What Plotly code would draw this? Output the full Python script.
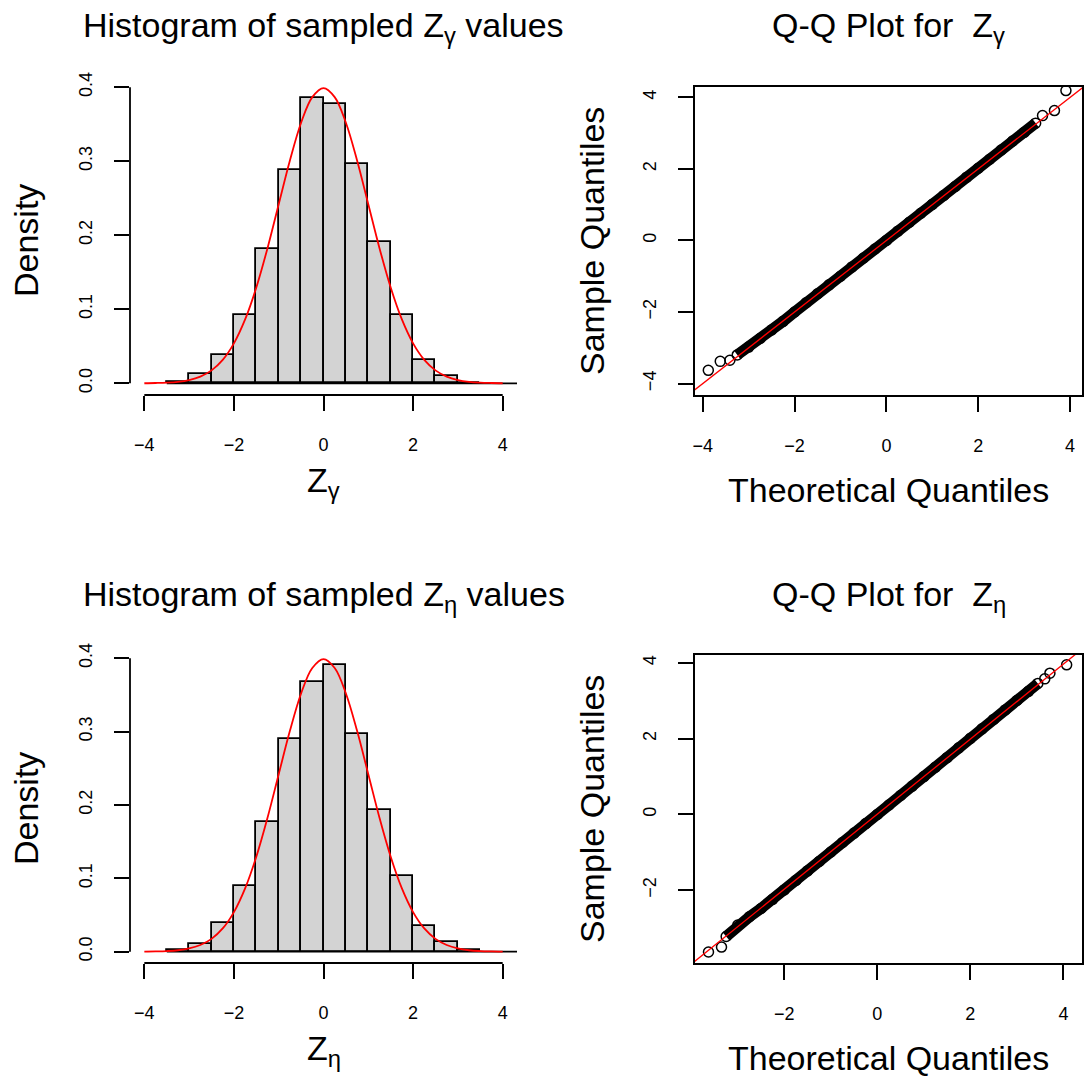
import plotly.graph_objects as go

W, H = 1089, 1077

# ---------------- data ----------------
bin_left = [-3.5, -3.0, -2.5, -2.0, -1.5, -1.0, -0.5, 0.0, 0.5, 1.0, 1.5, 2.0, 2.5, 3.0]
bin_width = 0.5
gamma_density = [0.002, 0.012, 0.038, 0.092, 0.182, 0.288, 0.386, 0.377, 0.297, 0.191, 0.092, 0.032, 0.010, 0.001]
eta_density = [0.002, 0.0105, 0.039, 0.090, 0.177, 0.290, 0.368, 0.391, 0.297, 0.193, 0.103, 0.035, 0.0127, 0.002]

curve_x = [-4.0, -3.75, -3.5, -3.25, -3.0, -2.75, -2.5, -2.25, -2.0, -1.75, -1.5, -1.25, -1.0, -0.75,
           -0.5, -0.25, 0.0, 0.25, 0.5, 0.75, 1.0, 1.25, 1.5, 1.75, 2.0, 2.25, 2.5, 2.75, 3.0, 3.25,
           3.5, 3.75, 4.0]
curve_y = [0.0001, 0.0004, 0.0009, 0.0020, 0.0044, 0.0091, 0.0175, 0.0317, 0.0540, 0.0863, 0.1295,
           0.1826, 0.2420, 0.3011, 0.3521, 0.3867, 0.3989, 0.3867, 0.3521, 0.3011, 0.2420, 0.1826,
           0.1295, 0.0863, 0.0540, 0.0317, 0.0175, 0.0091, 0.0044, 0.0020, 0.0009, 0.0004, 0.0001]
hist_baseline_x = [-3.5, 4.5]

x_ticks = [-4, -2, 0, 2, 4]
density_ticks = [0.0, 0.1, 0.2, 0.3, 0.4]
qq_ticks = [-4, -2, 0, 2, 4]

# Q-Q: dense band of points and sparse tail points (theoretical, sample)
gamma_band_theo = [-3.25, -3.0, -2.75, -2.5, -2.25, -2.0, -1.75, -1.5, -1.25, -1.0, -0.75, -0.5, -0.25,
                   0.0, 0.25, 0.5, 0.75, 1.0, 1.25, 1.5, 1.75, 2.0, 2.25, 2.5, 2.75, 3.0, 3.25]
gamma_band_samp = [-3.20, -2.98, -2.74, -2.50, -2.26, -2.00, -1.74, -1.49, -1.24, -1.00, -0.74, -0.49,
                   -0.24, 0.00, 0.26, 0.51, 0.76, 1.01, 1.26, 1.51, 1.77, 2.02, 2.27, 2.53, 2.78, 3.02, 3.28]
gamma_tail_theo = [-3.88, -3.62, -3.41, 3.40, 3.66, 3.91]
gamma_tail_samp = [-3.63, -3.38, -3.35, 3.49, 3.63, 4.19]
gamma_line = {"intercept": 0.0, "slope": 1.0}

eta_band_theo = [-3.25, -3.0, -2.75, -2.5, -2.25, -2.0, -1.75, -1.5, -1.25, -1.0, -0.75, -0.5, -0.25,
                 0.0, 0.25, 0.5, 0.75, 1.0, 1.25, 1.5, 1.75, 2.0, 2.25, 2.5, 2.75, 3.0, 3.25, 3.45]
eta_band_samp = [-3.22, -2.92, -2.70, -2.48, -2.24, -1.99, -1.74, -1.49, -1.24, -0.99, -0.74, -0.49,
                 -0.24, 0.00, 0.25, 0.50, 0.75, 1.00, 1.25, 1.50, 1.76, 2.01, 2.26, 2.51, 2.76, 3.01,
                 3.25, 3.46]
eta_tail_theo = [-3.63, -3.35, 3.60, 3.71, 4.07]
eta_tail_samp = [-3.63, -3.50, 3.58, 3.73, 3.95]
eta_line = {"intercept": 0.01, "slope": 0.99}

# ---------------- layout helpers ----------------
FONT = "Liberation Sans, Arial, sans-serif"
TICK_SIZE = 18
BIG = 34


def xd(a, b):
    return [a / W, b / W]


def yd(top, bottom):
    return [1 - bottom / H, 1 - top / H]


def px(x):
    return x / W


def py(y):
    return 1 - y / H


fig = go.Figure()
centers = [b + bin_width / 2 for b in bin_left]

for i, dens in enumerate([gamma_density, eta_density]):
    xa = "x" if i == 0 else "x3"
    ya = "y" if i == 0 else "y3"
    fig.add_trace(go.Scatter(x=hist_baseline_x, y=[0, 0], mode="lines",
                             line=dict(color="black", width=1.8), xaxis=xa, yaxis=ya,
                             showlegend=False, hoverinfo="skip"))
    fig.add_trace(go.Bar(x=centers, y=dens, width=[bin_width] * len(centers),
                         marker=dict(color="#D3D3D3", line=dict(color="black", width=1.8)),
                         xaxis=xa, yaxis=ya, showlegend=False))
    fig.add_trace(go.Scatter(x=curve_x, y=curve_y, mode="lines",
                             line=dict(color="red", width=1.8, shape="spline"),
                             xaxis=xa, yaxis=ya, showlegend=False))

qq_sets = [
    (gamma_band_theo, gamma_band_samp, gamma_tail_theo, gamma_tail_samp, gamma_line, "x2", "y2"),
    (eta_band_theo, eta_band_samp, eta_tail_theo, eta_tail_samp, eta_line, "x4", "y4"),
]
for bt, bs, tt, ts, ln, xa, ya in qq_sets:
    fig.add_trace(go.Scatter(x=bt, y=bs, mode="lines+markers",
                             line=dict(color="black", width=11),
                             marker=dict(symbol="circle-open", size=10, color="black",
                                         line=dict(width=1.5, color="black")),
                             xaxis=xa, yaxis=ya, showlegend=False))
    fig.add_trace(go.Scatter(x=tt, y=ts, mode="markers",
                             marker=dict(symbol="circle-open", size=10, color="black",
                                         line=dict(width=1.5, color="black")),
                             xaxis=xa, yaxis=ya, showlegend=False))
    lx = [-6, 6]
    fig.add_trace(go.Scatter(x=lx, y=[ln["intercept"] + ln["slope"] * v for v in lx], mode="lines",
                             line=dict(color="red", width=1.3), xaxis=xa, yaxis=ya,
                             showlegend=False))

tickfont = dict(family=FONT, size=TICK_SIZE, color="black")

common_x = dict(showgrid=False, zeroline=False, ticks="outside", ticklen=15, tickwidth=1.8,
                tickcolor="black", tickfont=tickfont, ticklabelstandoff=18,
                tickvals=x_ticks, automargin=False)
common_y = dict(showgrid=False, zeroline=False, ticks="outside", ticklen=15, tickwidth=1.8,
                tickcolor="black", tickfont=tickfont, tickangle=-90, ticklabelstandoff=15,
                automargin=False)

HIST_X = (130, 517)
QQ_X = (695, 1082)
ROW1 = (87, 395)
ROW2 = (655, 963)

layout = dict(
    width=W, height=H, margin=dict(l=0, r=0, t=0, b=0, pad=0, autoexpand=False),
    paper_bgcolor="white", plot_bgcolor="white", bargap=0, showlegend=False,
    font=dict(family=FONT, color="black"),
    xaxis=dict(domain=xd(*HIST_X), range=[-4.32, 4.32], anchor="y", showline=False, **common_x),
    yaxis=dict(domain=yd(*ROW1), range=[-0.0158, 0.4004], anchor="x", showline=False,
               tickvals=density_ticks, tickformat=".1f", **common_y),
    xaxis2=dict(domain=xd(*QQ_X), range=[-4.17, 4.26], anchor="y2", showline=True, mirror=True,
                linecolor="black", linewidth=1.8, **common_x),
    yaxis2=dict(domain=yd(*ROW1), range=[-4.32, 4.29], anchor="x2", showline=True, mirror=True,
                linecolor="black", linewidth=1.8, tickvals=qq_ticks, **common_y),
    xaxis3=dict(domain=xd(*HIST_X), range=[-4.32, 4.32], anchor="y3", showline=False, **common_x),
    yaxis3=dict(domain=yd(*ROW2), range=[-0.0154, 0.4045], anchor="x3", showline=False,
                tickvals=density_ticks, tickformat=".1f", **common_y),
    xaxis4=dict(domain=xd(*QQ_X), range=[-3.92, 4.40], anchor="y4", showline=True, mirror=True,
                linecolor="black", linewidth=1.8, **common_x),
    yaxis4=dict(domain=yd(*ROW2), range=[-3.92, 4.21], anchor="x4", showline=True, mirror=True,
                linecolor="black", linewidth=1.8, tickvals=qq_ticks, **common_y),
)
fig.update_layout(**layout)

# R-style axis lines spanning only the tick range (histograms)
shapes = []
for xa, ya, row in [("x", "y", ROW1), ("x3", "y3", ROW2)]:
    shapes.append(dict(type="line", xref=xa, yref="paper", x0=x_ticks[0], x1=x_ticks[-1],
                       y0=py(row[1]), y1=py(row[1]), line=dict(color="black", width=1.8)))
    shapes.append(dict(type="line", xref="paper", yref=ya, x0=px(HIST_X[0]), x1=px(HIST_X[0]),
                       y0=density_ticks[0], y1=density_ticks[-1], line=dict(color="black", width=1.8)))
fig.update_layout(shapes=shapes)

hist_cx = (HIST_X[0] + HIST_X[1]) / 2
qq_cx = (QQ_X[0] + QQ_X[1]) / 2
big = dict(family=FONT, size=BIG, color="black")
annots = []
for row_off, sym in [(0, "γ"), (568, "η")]:
    annots += [
        dict(text=f"Histogram of sampled Z<sub>{sym}</sub> values", x=px(hist_cx), y=py(28 + row_off)),
        dict(text=f"Q-Q Plot for  Z<sub>{sym}</sub>", x=px(qq_cx), y=py(28 + row_off)),
        dict(text=f"Z<sub>{sym}</sub>", x=px(hist_cx), y=py(482 + row_off)),
        dict(text="Theoretical Quantiles", x=px(qq_cx), y=py(490 + row_off)),
        dict(text="Density", x=px(26), y=py(241 + row_off), textangle=-90),
        dict(text="Sample Quantiles", x=px(592), y=py(241 + row_off), textangle=-90),
    ]
for a in annots:
    a.update(xref="paper", yref="paper", showarrow=False, font=big,
             xanchor="center", yanchor="middle")
fig.update_layout(annotations=annots)

fig.write_html("out.html")
